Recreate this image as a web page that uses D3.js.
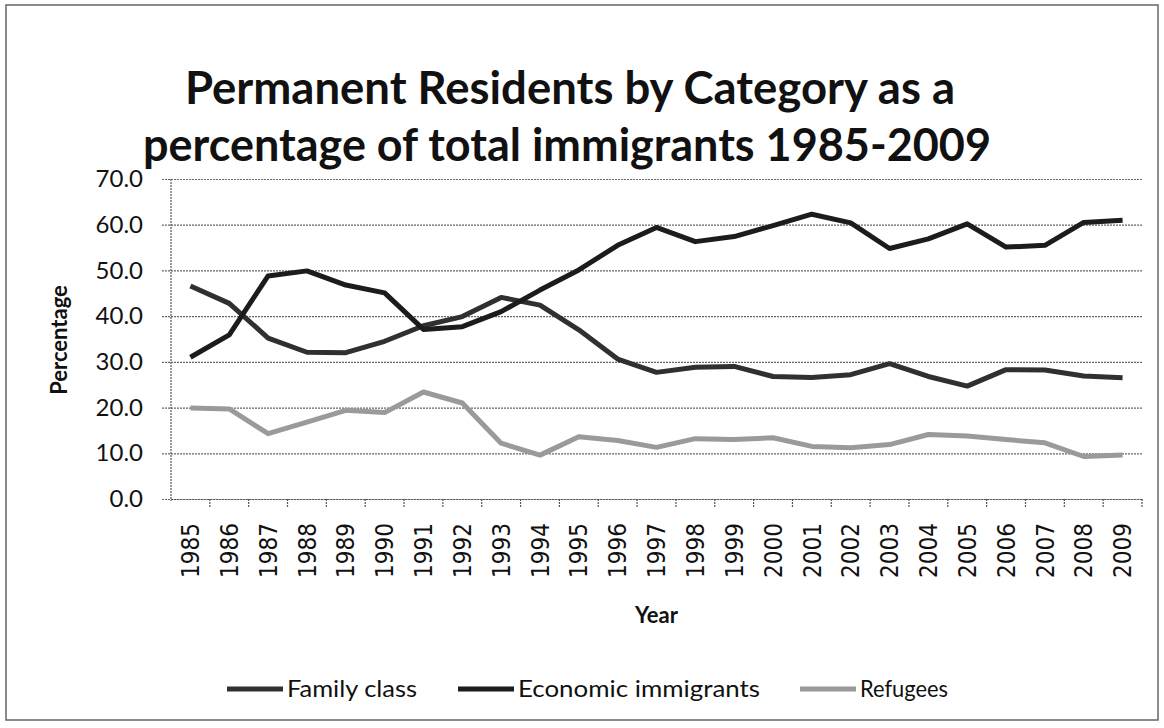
<!DOCTYPE html>
<html lang="en">
<head>
  <meta charset="UTF-8">
  <title>Permanent Residents by Category</title>
  <script src="https://d3js.org/d3.v7.min.js"></script>
  <style>
    body { margin: 0; background: #fff; }
    .title { font-family: Lato, "Open Sans", sans-serif; font-weight: bold; font-size: 46px; fill: #111; text-anchor: middle; }
    .ytick text { font-family: Lato, sans-serif; font-size: 24px; fill: #111; }
    .xtick text { font-family: "DejaVu Sans Condensed", "DejaVu Sans", sans-serif; font-size: 24px; fill: #111; }
    .axis-title { font-family: Lato, sans-serif; font-weight: bold; font-size: 22px; fill: #111; text-anchor: middle; }
    .legend text { font-family: Lato, sans-serif; font-size: 24px; fill: #111; }
    .grid line { stroke: #666; stroke-width: 1.2; stroke-dasharray: 2,1; }
    .line { fill: none; stroke-width: 5; stroke-linejoin: round; }
  </style>
</head>
<body>
  <div id="chart"></div>
  <script>
    const years = d3.range(1985, 2010).map(String);
    const familyClass = [46.6, 42.8, 35.2, 32.1, 32.0, 34.5, 37.9, 39.9, 44.1, 42.4, 37.0, 30.6,
                         27.7, 28.8, 29.0, 26.8, 26.6, 27.2, 29.6, 26.8, 24.7, 28.3, 28.2, 26.9, 26.5];
    const economic = [31.0, 35.9, 48.8, 49.9, 46.8, 45.1, 37.1, 37.7, 41.0, 45.7, 50.1, 55.5,
                      59.4, 56.3, 57.4, 59.8, 62.3, 60.4, 54.8, 56.9, 60.2, 55.1, 55.5, 60.5, 61.0];
    const refugees = [19.9, 19.7, 14.3, 16.8, 19.4, 18.9, 23.4, 21.0, 12.2, 9.6, 13.6, 12.8,
                      11.3, 13.2, 13.0, 13.4, 11.5, 11.2, 11.9, 14.1, 13.8, 13.0, 12.3, 9.3, 9.6];
    const yTicks = [0, 10, 20, 30, 40, 50, 60, 70];

    const series = [
      { name: "Family class", values: familyClass, color: "#303030" },
      { name: "Economic immigrants", values: economic, color: "#1c1c1c" },
      { name: "Refugees", values: refugees, color: "#9a9a9a" }
    ];

    const W = 1164, H = 728;
    const plot = { left: 171, right: 1142, top: 179, bottom: 499 };

    const svg = d3.select("#chart").append("svg")
      .attr("width", W).attr("height", H);

    // chart border
    svg.append("rect")
      .attr("x", 6).attr("y", 5).attr("width", W - 12).attr("height", H - 13)
      .attr("fill", "#fff").attr("stroke", "#666").attr("stroke-width", 1.5);

    // title
    svg.append("text").attr("class", "title")
      .attr("x", 570).attr("y", 104)
      .attr("textLength", 770).attr("lengthAdjust", "spacingAndGlyphs")
      .text("Permanent Residents by Category as a");
    svg.append("text").attr("class", "title")
      .attr("x", 567).attr("y", 161)
      .attr("textLength", 848).attr("lengthAdjust", "spacingAndGlyphs")
      .text("percentage of total immigrants 1985-2009");

    const x = d3.scaleBand().domain(years).range([plot.left, plot.right]).padding(0);
    const y = d3.scaleLinear().domain([0, 70]).range([plot.bottom, plot.top]);

    // gridlines + y axis labels
    const yAxis = svg.append("g")
      .attr("class", "ytick grid")
      .attr("transform", `translate(${plot.left},0)`)
      .call(d3.axisLeft(y).tickValues(yTicks).tickFormat(d => d.toFixed(1))
        .tickSize(-(plot.right - plot.left)).tickPadding(28));
    yAxis.select(".domain").remove();
    yAxis.selectAll(".tick line").attr("x1", -9);

    // y axis line
    svg.append("line")
      .attr("x1", plot.left).attr("x2", plot.left)
      .attr("y1", plot.top).attr("y2", plot.bottom + 2)
      .attr("stroke", "#555").attr("stroke-width", 1.2).attr("stroke-dasharray", "2,1");

    // x axis labels (rotated)
    const xAxis = svg.append("g")
      .attr("class", "xtick")
      .attr("transform", `translate(0,${plot.bottom})`)
      .call(d3.axisBottom(x).tickSize(0));
    xAxis.select(".domain").attr("stroke", "#555").attr("stroke-width", 1.2).attr("stroke-dasharray", "2,1");
    xAxis.selectAll(".tick text")
      .attr("transform", "rotate(-90)")
      .attr("text-anchor", "end")
      .attr("x", -24).attr("y", 0).attr("dy", "0.36em");

    // boundary ticks between categories
    svg.append("g").selectAll("line")
      .data(years.slice(1).concat(["end"]))
      .join("line")
      .attr("x1", d => d === "end" ? plot.right : x(d))
      .attr("x2", d => d === "end" ? plot.right : x(d))
      .attr("y1", plot.bottom).attr("y2", plot.bottom + 9)
      .attr("stroke", "#555").attr("stroke-width", 1.2).attr("stroke-dasharray", "2,1");

    // axis titles
    svg.append("text").attr("class", "axis-title")
      .attr("transform", `translate(67,340) rotate(-90)`)
      .text("Percentage");
    svg.append("text").attr("class", "axis-title")
      .attr("x", (plot.left + plot.right) / 2).attr("y", 623)
      .text("Year");

    // lines
    const line = d3.line()
      .x((d, i) => x(years[i]) + x.bandwidth() / 2)
      .y(d => y(d));

    svg.selectAll(".line")
      .data(series)
      .join("path")
      .attr("class", "line")
      .attr("stroke", d => d.color)
      .attr("d", d => line(d.values));

    // legend
    const legendX = [227, 458, 800];
    const legendW = [130, 242, 88];
    const legend = svg.append("g").attr("class", "legend");
    series.forEach((s, i) => {
      const g = legend.append("g").attr("transform", `translate(${legendX[i]},689)`);
      g.append("line").attr("x1", 0).attr("x2", 56).attr("y1", 0).attr("y2", 0)
        .attr("stroke", s.color).attr("stroke-width", 5);
      g.append("text").attr("x", 60).attr("y", 0).attr("dy", "0.35em")
        .attr("textLength", legendW[i]).attr("lengthAdjust", "spacingAndGlyphs")
        .text(s.name);
    });
  </script>
</body>
</html>
